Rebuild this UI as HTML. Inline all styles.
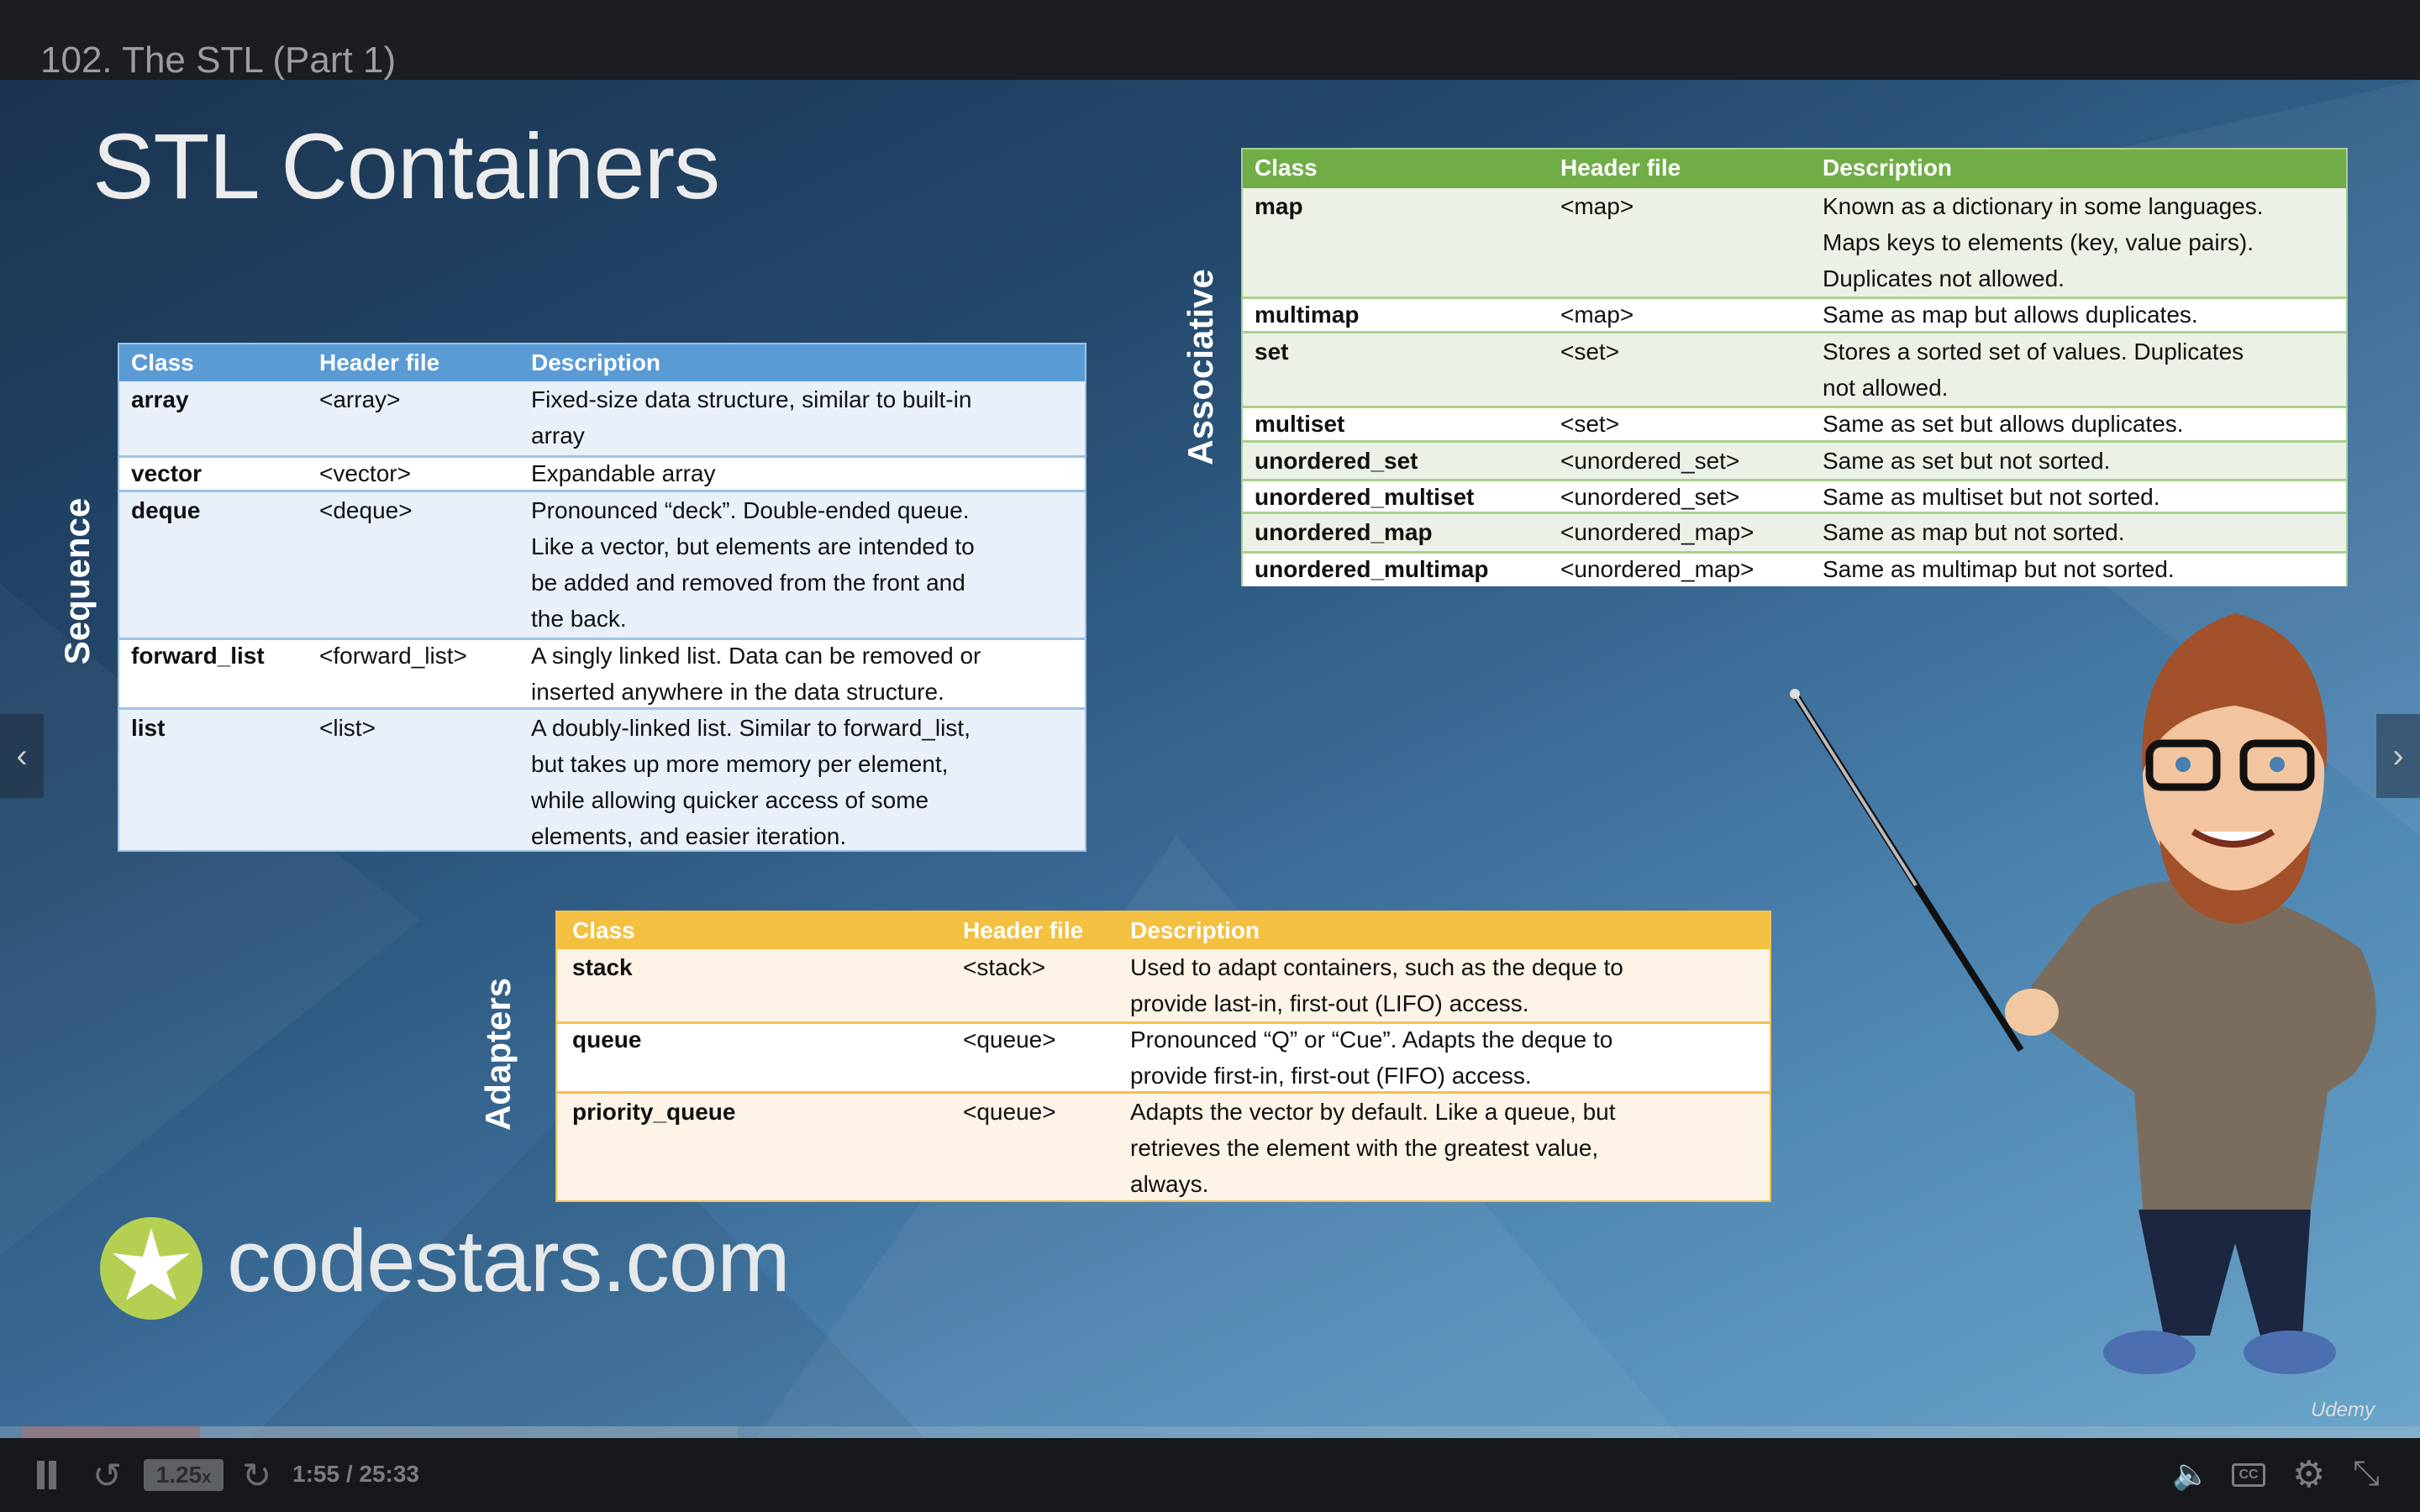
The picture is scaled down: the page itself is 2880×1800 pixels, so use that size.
<!DOCTYPE html>
<html><head><meta charset="utf-8"><style>
*{margin:0;padding:0;box-sizing:border-box}
body{width:2880px;height:1800px;overflow:hidden;background:#16181c;font-family:"Liberation Sans",sans-serif;position:relative}
.top{position:absolute;left:0;top:0;width:2880px;height:95px;background:#1c1d20}
.top span{position:absolute;left:48px;top:50px;font-size:44px;line-height:44px;color:#9a9ea3}
.main{position:absolute;left:0;top:95px;width:2880px;height:1617px;background:linear-gradient(155deg,#1b3450 0%,#24496d 30%,#3a6c97 55%,#5189b5 75%,#6aa5c9 100%);overflow:hidden}
.abs{position:absolute}
.tbl{position:absolute;font-size:28px;color:#111;white-space:nowrap}
.tbl .r{position:absolute;left:0;right:0}
.tbl .c{position:absolute;top:0;line-height:43px}
.hd{color:#fff;font-weight:bold;font-size:28px}
.b{font-weight:bold}
.vl{position:absolute;color:#fff;font-weight:bold;font-size:42px;transform:translate(-50%,-50%) rotate(-90deg);white-space:nowrap}
.bot{position:absolute;left:0;top:1712px;width:2880px;height:88px;background:#16181c;color:#8a8d92}
</style></head><body>
<div class="top"><span>102. The STL (Part 1)</span></div>
<div class="main">
<svg class="abs" style="left:0;top:0" width="2880" height="1617">
<polygon points="0,600 500,1000 0,1400" fill="#ffffff" opacity="0.04"/>
<polygon points="1400,900 2000,1617 900,1617" fill="#ffffff" opacity="0.05"/>
<polygon points="2000,200 2880,0 2880,900" fill="#ffffff" opacity="0.05"/>
<polygon points="300,1617 700,1200 1100,1617" fill="#000" opacity="0.06"/>
</svg>
</div>
<div class="abs" style="left:110px;top:135px;font-size:110px;color:#ececec;letter-spacing:-1px">STL Containers</div>

<!-- Sequence -->
<div class="vl" style="left:92px;top:692px">Sequence</div>
<div class="tbl" style="left:140px;top:408px;width:1153px;height:606px;background:#eaf0f9;border:2px solid #9dc3e6">
 <div class="r" style="top:0;height:44px;background:#5b9bd5"></div>
 <div class="c hd" style="left:14px;top:0">Class</div><div class="c hd" style="left:238px">Header file</div><div class="c hd" style="left:490px">Description</div>
 <div class="r" style="top:44px;height:88px"><div class="c b" style="left:14px">array</div><div class="c" style="left:238px">&lt;array&gt;</div><div class="c" style="left:490px">Fixed-size data structure, similar to built-in<br>array</div></div>
 <div class="r" style="top:132px;height:44px;background:#fff;border-top:3px solid #9dc3e6;border-bottom:3px solid #9dc3e6"><div class="c b" style="left:14px;top:-3px">vector</div><div class="c" style="left:238px;top:-3px">&lt;vector&gt;</div><div class="c" style="left:490px;top:-3px">Expandable array</div></div>
 <div class="r" style="top:176px;height:173px"><div class="c b" style="left:14px">deque</div><div class="c" style="left:238px">&lt;deque&gt;</div><div class="c" style="left:490px">Pronounced “deck”.  Double-ended queue.<br>Like a vector, but elements are intended to<br>be added and removed from the front and<br>the back.</div></div>
 <div class="r" style="top:349px;height:86px;background:#fff;border-top:3px solid #9dc3e6;border-bottom:3px solid #9dc3e6"><div class="c b" style="left:14px;top:-3px">forward_list</div><div class="c" style="left:238px;top:-3px">&lt;forward_list&gt;</div><div class="c" style="left:490px;top:-3px">A singly linked list.  Data can be removed or<br>inserted anywhere in the data structure.</div></div>
 <div class="r" style="top:435px;height:170px"><div class="c b" style="left:14px">list</div><div class="c" style="left:238px">&lt;list&gt;</div><div class="c" style="left:490px">A doubly-linked list.  Similar to forward_list,<br>but takes up more memory per element,<br>while allowing quicker access of some<br>elements, and easier iteration.</div></div>
</div>

<!-- Associative -->
<div class="vl" style="left:1429px;top:437px">Associative</div>
<div class="tbl" style="left:1477px;top:176px;width:1317px;height:522px;background:#ebf1e6;border:2px solid #a9d08e">
 <div class="r" style="top:0;height:46px;background:#70ad47"></div>
 <div class="c hd" style="left:14px">Class</div><div class="c hd" style="left:378px">Header file</div><div class="c hd" style="left:690px">Description</div>
 <div class="r" style="top:46px;height:129px"><div class="c b" style="left:14px">map</div><div class="c" style="left:378px">&lt;map&gt;</div><div class="c" style="left:690px">Known as a dictionary in some languages.<br>Maps keys to elements (key, value pairs).<br>Duplicates not allowed.</div></div>
 <div class="r" style="top:175px;height:44px;background:#fff;border-top:3px solid #a9d08e;border-bottom:3px solid #a9d08e"><div class="c b" style="left:14px;top:-3px">multimap</div><div class="c" style="left:378px;top:-3px">&lt;map&gt;</div><div class="c" style="left:690px;top:-3px">Same as map but allows duplicates.</div></div>
 <div class="r" style="top:219px;height:86px"><div class="c b" style="left:14px">set</div><div class="c" style="left:378px">&lt;set&gt;</div><div class="c" style="left:690px">Stores a sorted set of values.  Duplicates<br>not allowed.</div></div>
 <div class="r" style="top:305px;height:44px;background:#fff;border-top:3px solid #a9d08e;border-bottom:3px solid #a9d08e"><div class="c b" style="left:14px;top:-3px">multiset</div><div class="c" style="left:378px;top:-3px">&lt;set&gt;</div><div class="c" style="left:690px;top:-3px">Same as set but allows duplicates.</div></div>
 <div class="r" style="top:349px;height:43px"><div class="c b" style="left:14px">unordered_set</div><div class="c" style="left:378px">&lt;unordered_set&gt;</div><div class="c" style="left:690px">Same as set but not sorted.</div></div>
 <div class="r" style="top:392px;height:42px;background:#fff;border-top:3px solid #a9d08e;border-bottom:3px solid #a9d08e"><div class="c b" style="left:14px;top:-3px">unordered_multiset</div><div class="c" style="left:378px;top:-3px">&lt;unordered_set&gt;</div><div class="c" style="left:690px;top:-3px">Same as multiset but not sorted.</div></div>
 <div class="r" style="top:434px;height:44px"><div class="c b" style="left:14px">unordered_map</div><div class="c" style="left:378px">&lt;unordered_map&gt;</div><div class="c" style="left:690px">Same as map but not sorted.</div></div>
 <div class="r" style="top:478px;height:42px;background:#fff;border-top:3px solid #a9d08e"><div class="c b" style="left:14px;top:-3px">unordered_multimap</div><div class="c" style="left:378px;top:-3px">&lt;unordered_map&gt;</div><div class="c" style="left:690px;top:-3px">Same as multimap but not sorted.</div></div>
</div>

<!-- Adapters -->
<div class="vl" style="left:593px;top:1255px">Adapters</div>
<div class="tbl" style="left:661px;top:1084px;width:1447px;height:347px;background:#fdf3e6;border:2px solid #f4c14f">
 <div class="r" style="top:0;height:44px;background:#f4c042"></div>
 <div class="c hd" style="left:18px">Class</div><div class="c hd" style="left:483px">Header file</div><div class="c hd" style="left:682px">Description</div>
 <div class="r" style="top:44px;height:86px"><div class="c b" style="left:18px">stack</div><div class="c" style="left:483px">&lt;stack&gt;</div><div class="c" style="left:682px">Used to adapt containers, such as the deque to<br>provide last-in, first-out (LIFO) access.</div></div>
 <div class="r" style="top:130px;height:86px;background:#fff;border-top:3px solid #f4c14f;border-bottom:3px solid #f4c14f"><div class="c b" style="left:18px;top:-3px">queue</div><div class="c" style="left:483px;top:-3px">&lt;queue&gt;</div><div class="c" style="left:682px;top:-3px">Pronounced “Q” or “Cue”.  Adapts the deque to<br>provide first-in, first-out (FIFO) access.</div></div>
 <div class="r" style="top:216px;height:129px"><div class="c b" style="left:18px">priority_queue</div><div class="c" style="left:483px">&lt;queue&gt;</div><div class="c" style="left:682px">Adapts the vector by default.  Like a queue, but<br>retrieves the element with the greatest value,<br>always.</div></div>
</div>

<!-- logo -->
<svg class="abs" style="left:118px;top:1448px" width="124" height="124"><circle cx="62" cy="62" r="61" fill="#b5cf52"/><polygon points="62,14 72,48 108,44 80,66 92,100 62,80 32,100 44,66 16,44 52,48" fill="#fff"/></svg>
<div class="abs" style="left:270px;top:1442px;font-size:105px;color:#e6e8ea;letter-spacing:-1px">codestars.com</div>

<!-- character -->
<svg class="abs" style="left:2100px;top:700px" width="780" height="1010">
<line x1="36" y1="126" x2="305" y2="550" stroke="#111" stroke-width="8"/>
<line x1="36" y1="126" x2="180" y2="354" stroke="#bbb" stroke-width="4"/>
<circle cx="36" cy="126" r="6" fill="#ddd"/>
<path d="M390,380 Q470,330 560,360 Q640,380 710,430 Q750,520 700,580 L670,600 L650,740 L450,740 L440,600 Q380,560 330,520 Q300,500 320,470 Z" fill="#7a6d5e"/>
<ellipse cx="318" cy="505" rx="32" ry="28" fill="#f1c8a0"/>
<path d="M445,740 L650,740 L640,890 L590,890 L560,780 L530,890 L475,890 Z" fill="#1c2640"/>
<ellipse cx="458" cy="910" rx="55" ry="26" fill="#4b6fb0"/>
<ellipse cx="625" cy="910" rx="55" ry="26" fill="#4b6fb0"/>
<path d="M540,320 L600,320 L600,380 L540,380 Z" fill="#e9b58b"/>
<ellipse cx="558" cy="220" rx="108" ry="148" fill="#f2c5a0"/>
<path d="M450,220 Q440,70 560,30 Q680,60 668,220 Q660,160 560,140 Q470,150 450,220 Z" fill="#a2512a"/>
<path d="M470,300 Q560,420 650,300 Q640,390 560,400 Q480,390 470,300 Z" fill="#a2512a"/>
<rect x="458" y="185" width="80" height="52" rx="14" fill="none" stroke="#111" stroke-width="9"/>
<rect x="570" y="185" width="80" height="52" rx="14" fill="none" stroke="#111" stroke-width="9"/>
<circle cx="498" cy="210" r="9" fill="#4a7fb0"/><circle cx="610" cy="210" r="9" fill="#4a7fb0"/>
<path d="M510,290 Q558,320 605,290" stroke="#7a2e1c" stroke-width="8" fill="#fff"/>
</svg>

<!-- nav arrows -->
<div class="abs" style="left:0;top:850px;width:52px;height:100px;background:rgba(30,40,55,0.5);color:#ccc;font-size:40px;line-height:100px;text-align:center">‹</div>
<div class="abs" style="left:2828px;top:850px;width:52px;height:100px;background:rgba(30,40,55,0.5);color:#ccc;font-size:40px;line-height:100px;text-align:center">›</div>
<div class="abs" style="left:2750px;top:1665px;font-size:24px;color:#ddd;font-style:italic">Udemy</div>

<!-- progress -->
<div class="abs" style="left:0;top:1698px;width:2880px;height:14px;background:rgba(200,210,220,0.25)"></div>
<div class="abs" style="left:26px;top:1698px;width:212px;height:14px;background:#8e7a86"></div>
<div class="abs" style="left:238px;top:1698px;width:640px;height:14px;background:rgba(140,160,175,0.5)"></div>

<div class="bot">
 <div class="abs" style="left:44px;top:27px;width:9px;height:34px;background:#6a6d72"></div>
 <div class="abs" style="left:58px;top:27px;width:9px;height:34px;background:#6a6d72"></div>
 <div class="abs" style="left:110px;top:20px;font-size:42px;color:#6a6d72">↺</div>
 <div class="abs" style="left:171px;top:25px;width:95px;height:38px;background:#5d6065;border-radius:4px;color:#2a2c30;font-size:28px;line-height:38px;text-align:center;font-weight:bold">1.25<span style="font-size:20px">x</span></div>
 <div class="abs" style="left:288px;top:20px;font-size:42px;color:#6a6d72">↻</div>
 <div class="abs" style="left:348px;top:27px;font-size:28px;color:#7a7d82;font-weight:bold">1:55 / 25:33</div>
 <div class="abs" style="left:2585px;top:22px;font-size:36px;color:#7a7d82">🔈</div>
 <div class="abs" style="left:2656px;top:30px;width:40px;height:28px;border:3px solid #7a7d82;border-radius:4px;color:#7a7d82;font-size:16px;line-height:22px;text-align:center;font-weight:bold">CC</div>
 <div class="abs" style="left:2728px;top:18px;font-size:44px;color:#7a7d82">⚙</div>
 <div class="abs" style="left:2800px;top:20px;font-size:40px;color:#7a7d82">⤡</div>
</div>
</body></html>
